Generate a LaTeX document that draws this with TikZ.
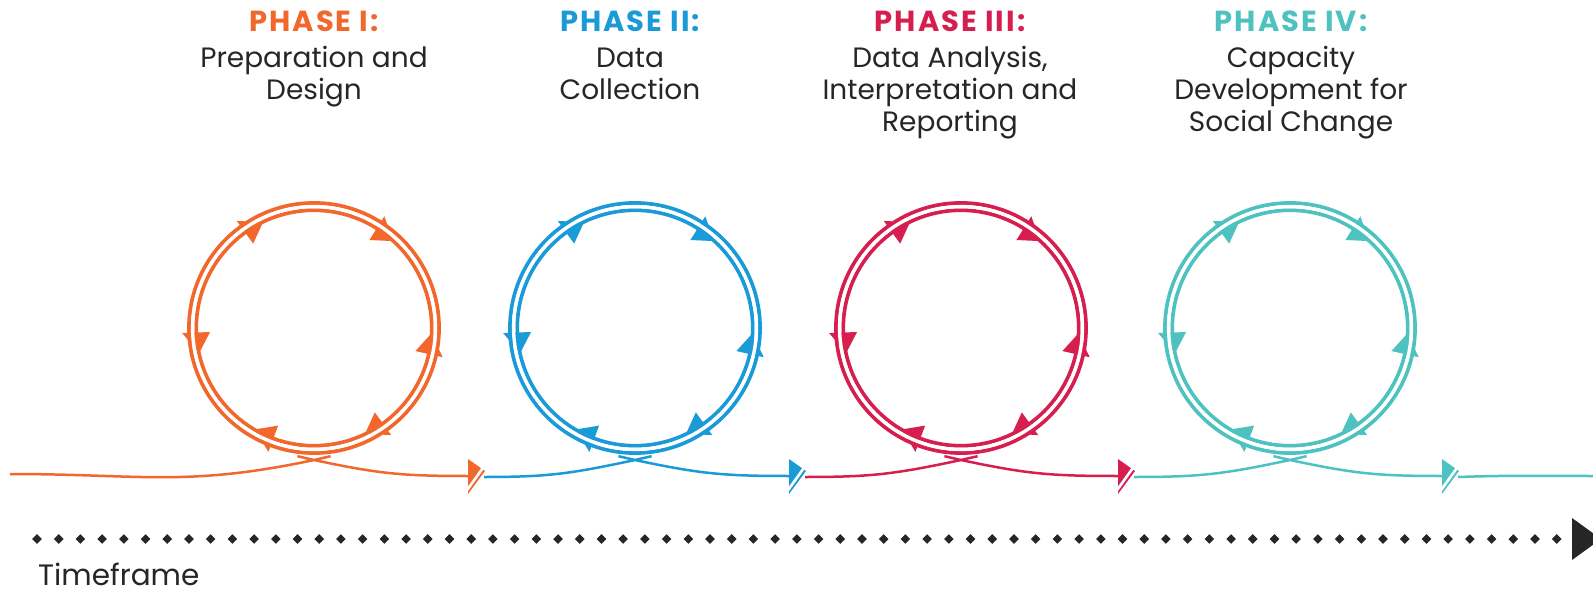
\documentclass[tikz,border=0pt]{standalone}
\usepackage{fontspec}
\setmainfont{Poppins}
\newfontfamily\headfont{Poppins}[LetterSpace=7]
\usetikzlibrary{calc}
\definecolor{ph1}{HTML}{F2672C}
\definecolor{ph2}{HTML}{1B9AD8}
\definecolor{ph3}{HTML}{D71F4F}
\definecolor{ph4}{HTML}{4DC2C0}
\definecolor{ink}{HTML}{262626}
\tikzset{
  ring/.style={line width=3.8pt},
  gapring/.style={white, line width=3.4pt},
  flow/.style={line width=2.5pt},
  lbl/.style={anchor=base, inner sep=0pt, text=ink, font=\fontsize{28}{32}\selectfont},
  head/.style={anchor=base, inner sep=0pt, font=\headfont\fontsize{29}{32}\selectfont\bfseries},
  cutline/.style={white, line width=2.6pt},
}
\begin{document}
\begin{tikzpicture}[x=1pt,y=-1pt]
\useasboundingbox (0,0) rectangle (1593,596);

% ---- texts
\node[head, text=ph1] (h1) at (314,32) {PHASE I:};
\node[lbl] (h1a) at (314,68) {Preparation and};
\node[lbl] (h1b) at (314,100) {Design};
\node[head, text=ph2] (h2) at (630,32) {PHASE II:};
\node[lbl] (h2a) at (630,68) {Data};
\node[lbl] (h2b) at (630,100) {Collection};
\node[head, text=ph3] (h3) at (950,32) {PHASE III:};
\node[lbl] (h3a) at (950,68) {Data Analysis,};
\node[lbl] (h3b) at (950,100) {Interpretation and};
\node[lbl] (h3c) at (950,132) {Reporting};
\node[head, text=ph4] (h4) at (1291,32) {PHASE IV:};
\node[lbl] (h4a) at (1291,68) {Capacity};
\node[lbl] (h4b) at (1291,100) {Development for};
\node[lbl] (h4c) at (1291,132) {Social Change};

\node[lbl, anchor=base west, font=\fontsize{29.5}{33}\selectfont] (tf) at (38,585) {Timeframe};

% ---- key points
\coordinate (s0) at (10,474);
\foreach \n/\cx/\ax in {1/314/469, 2/635/790, 3/961/1119, 4/1290/1443}{
  \coordinate (c\n) at (\cx,328);
  \coordinate (x\n) at (\cx,460);
  \coordinate (e\n) at (\ax,476);
  \coordinate (s\n) at (\ax+15,477);
}
\coordinate (tail) at (1593,476);

% ---- rings with arrowheads
\foreach \n/\col in {1/ph1, 2/ph2, 3/ph3, 4/ph4}{
  \draw[ring, \col] (c\n) circle[radius=125];
  \draw[ring, \col] (c\n) circle[radius=117.8];
  \foreach \a/\d in {121/1, 53/1, 187/-1, -8/-1, 245/1, 301/1}{
    \pgfmathsetmacro{\t}{-\a}
    \fill[\col] ($(c\n)+(\t+5.3*\d:117.5)$) -- ($(c\n)+(\t-4.8*\d:104)$) -- ($(c\n)+(\t-4.8*\d:132)$) -- cycle;
  }
  \draw[gapring] (c\n) circle[radius=121.4];
}

% ---- flow lines
\foreach \n/\p/\col in {1/0/ph1, 2/1/ph2, 3/2/ph3, 4/3/ph4}{
  \draw[flow, \col] (s\p) to[out=0, in=192, looseness=1.1] (x\n) -- ++(-13:17);
  \draw[flow, \col] ($(x\n)+(193:17)$) -- (x\n) to[out=-12, in=180, looseness=1.1] (e\n);
}
\draw[flow, ph4] (s4) to[out=2, in=180] (tail);

% ---- junction arrowheads
\foreach \n/\col in {1/ph1, 2/ph2, 3/ph3, 4/ph4}{
  \fill[\col] ($(e\n)+(-1,-17)$) -- ($(e\n)+(16,-5)$) -- ($(e\n)+(-1,18)$) -- cycle;
  \draw[cutline] ($(e\n)+(18.5,-14.5)$) -- ($(e\n)+(-9,24)$);
}

% ---- timeline
\foreach \i in {0,...,70}{
  \pgfmathsetmacro{\xx}{37+\i*21.71}
  \fill[ink] (\xx-4.8,539) -- (\xx,534.2) -- (\xx+4.8,539) -- (\xx,543.8) -- cycle;
  \fill[ink] (\xx,539) circle[radius=2.8];
}
\fill[ink] (1572,518) -- (1601,539) -- (1572,560) -- cycle;
\end{tikzpicture}
\end{document}
